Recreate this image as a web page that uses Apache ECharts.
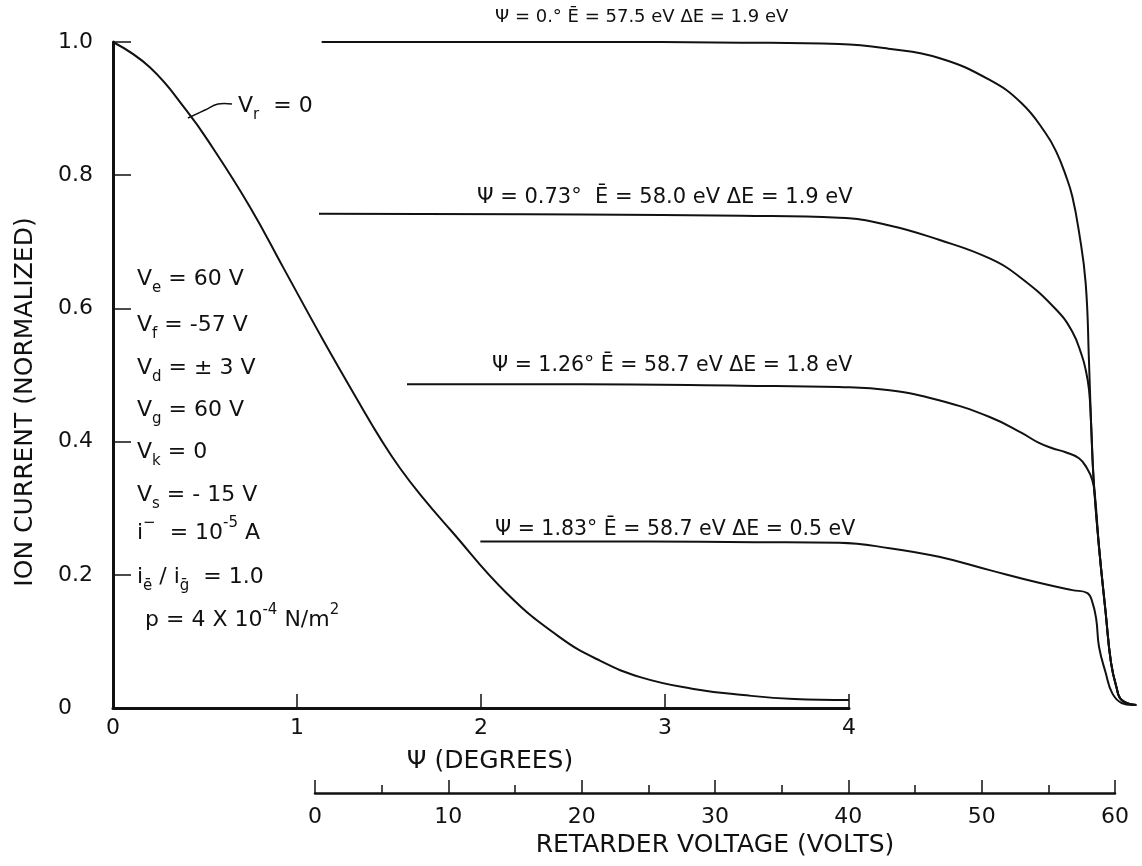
<!DOCTYPE html>
<html><head><meta charset="utf-8">
<script src="https://cdn.jsdelivr.net/npm/echarts@6.0.0/dist/echarts.min.js"></script>
<style>html,body{margin:0;padding:0;background:#fff}#c{width:1142px;height:866px}</style>
</head><body><div id="c"></div>
<script>
// ---------- data ----------
const psiTicks = [0, 1, 2, 3, 4];
const currentTicks = [0, 0.2, 0.4, 0.6, 0.8, 1.0];
const voltTicks = [0, 10, 20, 30, 40, 50, 60];

// Vr = 0 curve : ion current vs psi (degrees)
const psiDeg     = [0, 0.2, 0.4, 0.54, 0.745, 0.924, 1.141, 1.353, 1.45, 1.56, 1.68, 1.832, 2.141, 2.429, 2.647, 2.87, 3.147, 3.424, 3.701, 4.0];
const psiCurrent = [1.0, 0.962, 0.897, 0.842, 0.752, 0.662, 0.553, 0.451, 0.406, 0.36, 0.317, 0.268, 0.172, 0.106, 0.071, 0.046, 0.029, 0.0195, 0.0135, 0.012];

// retarding curves : ion current vs retarder voltage
const tailVolts   = [58.8, 59.3, 59.7, 60.1, 60.5, 61.6];
const tailCurrent = [0.242, 0.143, 0.068, 0.032, 0.012, 0.0045];

const psi000Volts   = [0.5, 20, 32, 39.3, 43, 46.8, 50.6, 53.0, 54.8, 55.6, 56.3, 56.8, 57.3, 57.8, 58.05, 58.2, 58.4];
const psi000Current = [1.0, 1.0, 0.999, 0.997, 0.99, 0.976, 0.943, 0.908, 0.863, 0.835, 0.8, 0.768, 0.715, 0.638, 0.52, 0.43, 0.342];

const psi073Volts   = [0.3, 20, 32, 39.3, 43, 46.8, 50.6, 53.0, 55.6, 56.8, 57.5, 57.8, 58.05, 58.2, 58.4];
const psi073Current = [0.742, 0.741, 0.739, 0.736, 0.725, 0.703, 0.675, 0.645, 0.598, 0.565, 0.53, 0.508, 0.478, 0.43, 0.342];

const psi126Volts   = [6.9, 20, 32, 39.3, 43.1, 46.8, 50.6, 53.0, 54.3, 55.3, 56.3, 57.3, 57.9, 58.3, 58.5];
const psi126Current = [0.486, 0.486, 0.484, 0.482, 0.477, 0.462, 0.437, 0.413, 0.398, 0.39, 0.384, 0.375, 0.36, 0.342, 0.318];

const psi183Volts   = [12.4, 25, 33, 39.3, 43.1, 46.8, 50.6, 54.3, 56.8, 57.9, 58.3, 58.6, 58.8, 59.3, 59.8, 60.5, 61.3];
const psi183Current = [0.25, 0.25, 0.249, 0.248, 0.24, 0.227, 0.207, 0.188, 0.177, 0.173, 0.159, 0.132, 0.092, 0.053, 0.022, 0.0075, 0.0045];

const curveLabels = [
  'Ψ = 0.° Ē = 57.5 eV ΔE = 1.9 eV',
  'Ψ = 0.73°  Ē = 58.0 eV ΔE = 1.9 eV',
  'Ψ = 1.26° Ē = 58.7 eV ΔE = 1.8 eV',
  'Ψ = 1.83° Ē = 58.7 eV ΔE = 0.5 eV'
];
const paramLines = [
  'V{s|e} = 60 V',
  'V{s|f} = -57 V',
  'V{s|d} = ± 3 V',
  'V{s|g} = 60 V',
  'V{s|k} = 0',
  'V{s|s} = - 15 V',
  'i{p|−}  = 10{p|-5} A',
  'i{s|ē} / i{s|ḡ}  = 1.0',
  'p = 4 X 10{p|-4} N/m{p|2}'
];

// ---------- helpers ----------
const FONT = '"DejaVu Sans", sans-serif';
const INK = '#111';
const zip = (a, b) => a.map((v, i) => [v, b[i]]);
const withTail = (v, c) => [zip(v, c), zip(tailVolts, tailCurrent)].flat();

const chart = echarts.init(document.getElementById('c'), null, {renderer: 'canvas'});

// voltage axis scale: 0 V at x=315, 60 V at x=1115  -> hidden plotting axis runs 0..62 V
const PX_PER_VOLT = 800 / 60;
const PLOT_MAX_V = 62;

const lineSeries = (data, xi, yi) => ({
  type: 'line', xAxisIndex: xi, yAxisIndex: yi, data,
  symbol: 'none', smooth: 0.45, clip: false, silent: true,
  lineStyle: {color: INK, width: 2}
});

const richStyles = {
  s: {fontFamily: FONT, fontSize: 15, lineHeight: 15, verticalAlign: 'bottom', fill: INK},
  p: {fontFamily: FONT, fontSize: 15, lineHeight: 15, verticalAlign: 'top', fill: INK}
};
const paramY = [279, 325, 368, 410, 452, 495, 533, 577, 620];
const paramX = [137, 137, 137, 137, 137, 137, 137, 137, 145];

const graphics = [];
graphics.push({type: 'text', x: 25, y: 402, rotation: Math.PI / 2,
  style: {text: 'ION CURRENT (NORMALIZED)', fontFamily: FONT, fontSize: 25, fill: INK, align: 'center', verticalAlign: 'middle'}});
const annX = [495, 477, 492, 495];
const annY = [17, 198, 366, 530];
const annSize = [18, 21, 20.5, 20.5];
curveLabels.forEach((t, i) => graphics.push({type: 'text', x: annX[i], y: annY[i],
  style: {text: t, fontFamily: FONT, fontSize: annSize[i], fill: INK, align: 'left', verticalAlign: 'middle'}}));
graphics.push({type: 'text', x: 238, y: 106,
  style: {text: 'V{s|r}  = 0', rich: richStyles, fontFamily: FONT, fontSize: 22, lineHeight: 34, fill: INK, align: 'left', verticalAlign: 'middle'}});
graphics.push({type: 'polyline', shape: {points: [[188, 118], [205, 110], [218, 104], [232, 104]], smooth: 0.4},
  style: {stroke: INK, lineWidth: 1.5, fill: null}});
paramLines.forEach((t, i) => graphics.push({type: 'text', x: paramX[i], y: paramY[i],
  style: {text: t, rich: richStyles, fontFamily: FONT, fontSize: 22, lineHeight: 34, fill: INK, align: 'left', verticalAlign: 'middle'}}));

const option = {
  animation: false,
  backgroundColor: '#fff',
  grid: [
    {left: 113, width: 736, top: 42, height: 666, outerBoundsMode: 'none', containLabel: false},
    {left: 315, width: 800, top: 42, height: 666, outerBoundsMode: 'none', containLabel: false},
    {left: 315, width: PX_PER_VOLT * PLOT_MAX_V, top: 42, height: 666, outerBoundsMode: 'none', containLabel: false}
  ],
  xAxis: [
    {type: 'value', gridIndex: 0, min: psiTicks[0], max: psiTicks[psiTicks.length - 1], interval: 1,
     name: 'Ψ (DEGREES)', nameLocation: 'middle', nameGap: 41,
     nameTextStyle: {fontFamily: FONT, fontSize: 25, color: INK, padding: [0, 0, 0, 18]},
     axisLine: {onZero: false, lineStyle: {color: INK, width: 3}},
     axisTick: {inside: true, length: 14, lineStyle: {color: INK, width: 1.5}},
     axisLabel: {fontFamily: FONT, fontSize: 22, color: INK, margin: 9},
     splitLine: {show: false}},
    {type: 'value', gridIndex: 1, min: voltTicks[0], max: voltTicks[voltTicks.length - 1], interval: 10,
     position: 'bottom', offset: 85,
     name: 'RETARDER VOLTAGE (VOLTS)', nameLocation: 'middle', nameGap: 40,
     nameTextStyle: {fontFamily: FONT, fontSize: 25, color: INK},
     axisLine: {onZero: false, lineStyle: {color: INK, width: 2.5}},
     axisTick: {inside: true, length: 13, lineStyle: {color: INK, width: 1.5}},
     minorTick: {show: true, splitNumber: 2, length: 8, lineStyle: {color: INK, width: 1.5}},
     axisLabel: {fontFamily: FONT, fontSize: 22, color: INK, margin: 13},
     splitLine: {show: false}, minorSplitLine: {show: false}},
    {type: 'value', gridIndex: 2, min: 0, max: PLOT_MAX_V, show: false, splitLine: {show: false}}
  ],
  yAxis: [
    {type: 'value', gridIndex: 0, min: currentTicks[0], max: currentTicks[currentTicks.length - 1], interval: 0.2,
     axisLine: {show: true, onZero: false, lineStyle: {color: INK, width: 3}},
     axisTick: {show: true, inside: true, length: 18, lineStyle: {color: INK, width: 1.5}},
     axisLabel: {fontFamily: FONT, fontSize: 22, color: INK, align: 'left', margin: 55,
       formatter: v => v === 0 ? '0' : v.toFixed(1)},
     splitLine: {show: false}},
    {type: 'value', gridIndex: 1, min: 0, max: 1, show: false, splitLine: {show: false}},
    {type: 'value', gridIndex: 2, min: 0, max: 1, show: false, splitLine: {show: false}}
  ],
  series: [
    lineSeries(zip(psiDeg, psiCurrent), 0, 0),
    lineSeries(withTail(psi000Volts, psi000Current), 2, 2),
    lineSeries(withTail(psi073Volts, psi073Current), 2, 2),
    lineSeries(withTail(psi126Volts, psi126Current), 2, 2),
    lineSeries(zip(psi183Volts, psi183Current), 2, 2)
  ],
  graphic: graphics
};
chart.setOption(option);
</script></body></html>
